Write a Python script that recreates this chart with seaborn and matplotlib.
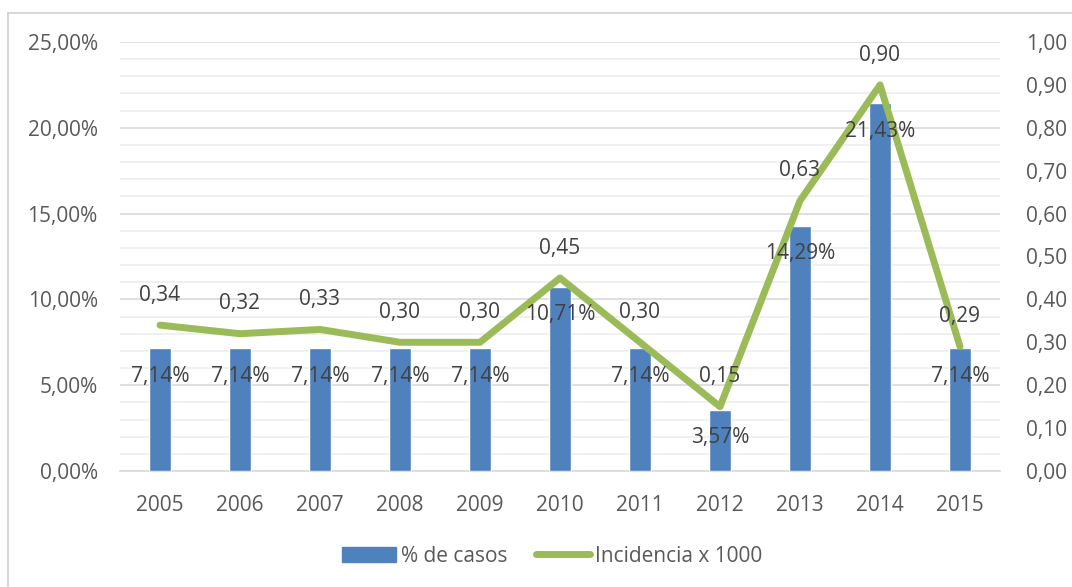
import seaborn as sns
import matplotlib.pyplot as plt
import numpy as np
import pandas as pd
from matplotlib.ticker import MultipleLocator, FixedLocator, FuncFormatter
from matplotlib.lines import Line2D
from matplotlib.patches import Patch

years = ['2005', '2006', '2007', '2008', '2009', '2010', '2011', '2012', '2013', '2014', '2015']
pct_casos = [7.14, 7.14, 7.14, 7.14, 7.14, 10.71, 7.14, 3.57, 14.29, 21.43, 7.14]
incidencia = [0.34, 0.32, 0.33, 0.30, 0.30, 0.45, 0.30, 0.15, 0.63, 0.90, 0.29]

df = pd.DataFrame({'year': years, 'pct': np.array(pct_casos) / 100, 'inc': incidencia})
df['pos'] = np.arange(len(years))

sns.set_style('white')
plt.rcParams['font.family'] = ['Open Sans', 'DejaVu Sans']
txt = '#595959'
blue = '#4F81BD'
green = '#9BBB59'
fs = 15

fig = plt.figure(figsize=(10.72, 5.87), dpi=100)
ax = fig.add_axes([120 / 1072, 1 - 471 / 587, 880 / 1072, 429 / 587])

sns.barplot(data=df, x='year', y='pct', color=blue, width=0.27, saturation=1, ax=ax, zorder=3)
ax.set_ylim(0, 0.25)
ax.set_xlim(-0.5, len(years) - 0.5)
ax.yaxis.set_major_locator(MultipleLocator(0.05))
ax.yaxis.set_minor_locator(MultipleLocator(0.01))
ax.yaxis.set_major_formatter(FuncFormatter(lambda v, p: f'{v * 100:.2f}%'.replace('.', ',')))
ax.grid(axis='y', which='major', color='#D9D9D9', lw=1.2, zorder=0)
ax.grid(axis='y', which='minor', color='#EDEDED', lw=1.2, zorder=0)
ax.set_axisbelow(True)
ax.set_xlabel('')
ax.set_ylabel('')
for s in ['top', 'left', 'right']:
    ax.spines[s].set_visible(False)
ax.spines['bottom'].set_color('#D9D9D9')
ax.spines['bottom'].set_linewidth(1.2)
ax.xaxis.set_minor_locator(FixedLocator(np.arange(-0.5, len(years), 1.0)))
ax.tick_params(axis='x', which='major', length=0, pad=17, labelsize=fs, labelcolor=txt)
ax.tick_params(axis='x', which='minor', length=4.5, color='#D9D9D9', width=1.2)
ax.tick_params(axis='y', which='both', length=0, pad=16, labelsize=fs, labelcolor=txt)

ax2 = ax.twinx()
sns.lineplot(data=df, x='pos', y='inc', color=green, lw=5, ax=ax2, zorder=4)
ax2.set_ylim(0, 1.0)
ax2.yaxis.set_major_locator(MultipleLocator(0.1))
ax2.yaxis.set_major_formatter(FuncFormatter(lambda v, p: f'{v:.2f}'.replace('.', ',')))
ax2.tick_params(axis='y', length=0, pad=19, labelsize=fs, labelcolor=txt)
ax2.set_ylabel('')
ax2.set_xlabel('')
for s in ax2.spines.values():
    s.set_visible(False)

for i, (p, v) in enumerate(zip(df['pct'], incidencia)):
    ax2.annotate(f'{p * 100:.2f}%'.replace('.', ','), xy=(i, p), xycoords=ax.transData,
                 xytext=(0, -20), textcoords='offset points', ha='center', va='center',
                 fontsize=fs, color='#404040', zorder=6)
    ax2.annotate(f'{v:.2f}'.replace('.', ','), xy=(i, v), xycoords=ax2.transData,
                 xytext=(0, 21.5), textcoords='offset points', ha='center', va='center',
                 fontsize=fs, color='#404040', zorder=6)

handles = [Patch(color=blue, label='% de casos'),
           Line2D([0], [0], color=green, lw=5, solid_capstyle='round', label='Incidencia x 1000')]
fig.legend(handles=handles, loc='center', bbox_to_anchor=(552 / 1072, 1 - 556 / 587), ncol=2,
           frameon=False, fontsize=fs, labelcolor=txt, handlelength=2.6, handletextpad=0.2,
           columnspacing=1.4)

# chart border
fig.add_artist(Line2D([8 / 1072, 8 / 1072], [0, 1 - 13 / 587], color='#D0D0D0', lw=1.2))
fig.add_artist(Line2D([8 / 1072, 1], [1 - 13 / 587, 1 - 13 / 587], color='#D0D0D0', lw=1.2))

fig.savefig('out.png', dpi=100)
